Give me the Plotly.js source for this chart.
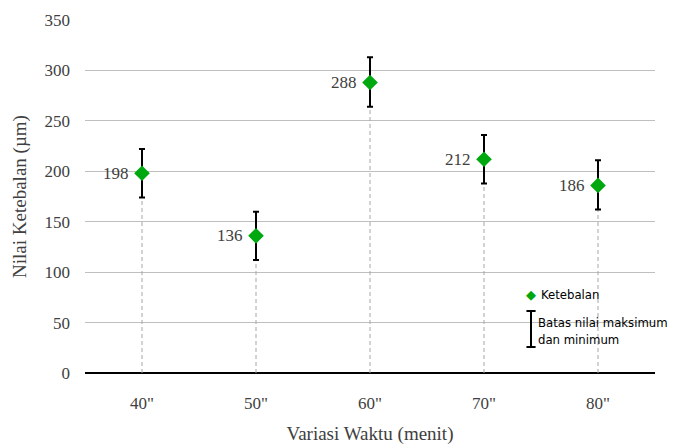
<!DOCTYPE html>
<html>
<head>
<meta charset="utf-8">
<script src="https://cdn.plot.ly/plotly-3.0.1.min.js"></script>
<style>html,body{margin:0;padding:0;background:#fff;}#chart{width:673px;height:445px;}</style>
</head>
<body>
<div id="chart"></div>
<script>
const categories = ['40"', '50"', '60"', '70"', '80"'];
const thickness = [198, 136, 288, 212, 186];
const maxValues = [222, 160, 313, 236, 211];
const minValues = [174, 112, 264, 188, 162];
const yTicks = [0, 50, 100, 150, 200, 250, 300, 350];

const serif = 'Liberation Serif, Times New Roman, serif';
const sans = 'DejaVu Sans Condensed, DejaVu Sans, sans-serif';
const green = '#00a80f';
const traces = [];

categories.forEach((c, i) => {
  traces.push({
    x: [c, c], y: [0, thickness[i]], mode: 'lines', type: 'scatter',
    line: {color: '#a6a6a6', width: 1, dash: '4px,3px'},
    hoverinfo: 'skip', showlegend: false
  });
});

traces.push({
  x: categories, y: thickness, type: 'scatter', mode: 'markers',
  marker: {symbol: 'diamond', size: 12, color: green},
  error_y: {
    type: 'data', symmetric: false,
    array: maxValues.map((m, i) => m - thickness[i]),
    arrayminus: thickness.map((v, i) => v - minValues[i]),
    color: '#000', thickness: 2, width: 3
  },
  cliponaxis: false, showlegend: false
});

const labelAnnotations = categories.map((c, i) => ({
  x: c, y: thickness[i], xref: 'x', yref: 'y',
  text: String(thickness[i]), showarrow: false,
  xanchor: 'right', yanchor: 'middle', xshift: -11,
  font: {family: serif, size: 17, color: '#404040'}
}));

const layout = {
  width: 673, height: 445,
  margin: {l: 85, r: 18, t: 20, b: 72},
  paper_bgcolor: '#fff', plot_bgcolor: '#fff',
  showlegend: false,
  font: {family: serif, size: 16, color: '#404040'},
  xaxis: {
    type: 'category', range: [-0.5, 4.5],
    showgrid: false, zeroline: false,
    showline: false, ticks: '',
    ticklabelstandoff: 18,
    tickfont: {family: serif, size: 17, color: '#404040'},
    title: {text: 'Variasi Waktu (menit)', font: {family: serif, size: 19, color: '#404040'}, standoff: 14}
  },
  yaxis: {
    range: [0, 350], tickvals: yTicks,
    showgrid: true, gridcolor: '#bfbfbf', gridwidth: 1,
    zeroline: true, zerolinecolor: '#000', zerolinewidth: 1.5,
    showline: false, ticks: '',
    tickfont: {family: serif, size: 17, color: '#404040'},
    ticklabelstandoff: 14,
    title: {text: 'Nilai Ketebalan (µm)', font: {family: serif, size: 19, color: '#404040'}, standoff: 12}
  },
  shapes: [
    {type: 'line', xref: 'paper', yref: 'paper', x0: 0.7825, x1: 0.7825, y0: 0.0737, y1: 0.1756, line: {color: '#000', width: 2}},
    {type: 'line', xref: 'paper', yref: 'paper', x0: 0.7745, x1: 0.7905, y0: 0.1756, y1: 0.1756, line: {color: '#000', width: 2}},
    {type: 'line', xref: 'paper', yref: 'paper', x0: 0.7745, x1: 0.7905, y0: 0.0737, y1: 0.0737, line: {color: '#000', width: 2}}
  ],
  annotations: labelAnnotations.concat([
    {xref: 'paper', yref: 'paper', x: 0.7825, y: 0.2225, text: '◆', showarrow: false, xanchor: 'center', yanchor: 'middle', font: {family: 'DejaVu Sans', size: 13, color: green}},
    {xref: 'paper', yref: 'paper', x: 0.796, y: 0.2225, text: 'Ketebalan', showarrow: false, xanchor: 'left', yanchor: 'middle', font: {family: sans, size: 13, color: '#000'}},
    {xref: 'paper', yref: 'paper', x: 0.791, y: 0.118, text: 'Batas nilai maksimum<br>dan minimum', align: 'left', showarrow: false, xanchor: 'left', yanchor: 'middle', font: {family: sans, size: 13, color: '#000'}}
  ])
};

Plotly.newPlot('chart', traces, layout, {displayModeBar: false, staticPlot: true});
</script>
</body>
</html>
